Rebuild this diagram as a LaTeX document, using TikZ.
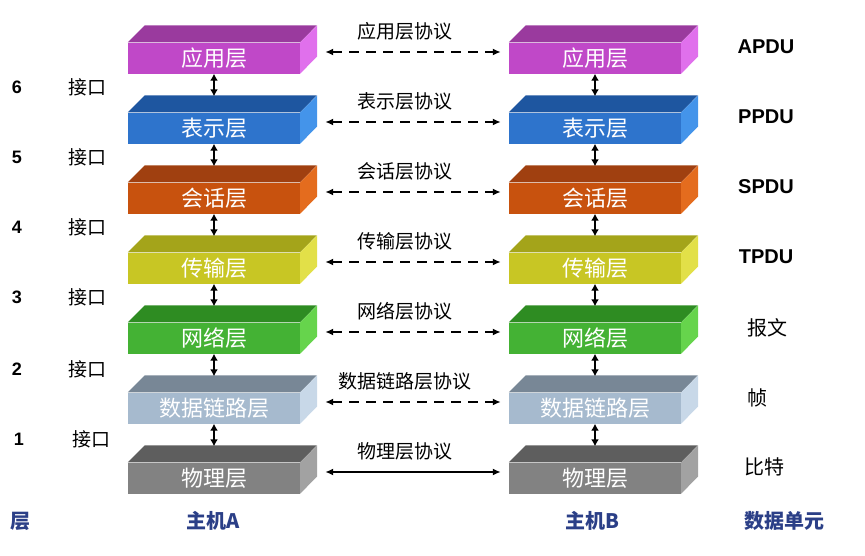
\documentclass[tikz,border=0pt]{standalone}
\usepackage{fontspec}
\setmainfont{Noto Sans CJK SC}
\newfontfamily\latf{Liberation Sans}
\usetikzlibrary{arrows.meta}
\definecolor{hostblue}{HTML}{2B3F87}
\definecolor{apF}{HTML}{C048C8}\definecolor{apT}{HTML}{9A3A9E}\definecolor{apS}{HTML}{E070EC}
\definecolor{prF}{HTML}{2E74CC}\definecolor{prT}{HTML}{1E56A0}\definecolor{prS}{HTML}{4494EA}
\definecolor{seF}{HTML}{C8520E}\definecolor{seT}{HTML}{A04010}\definecolor{seS}{HTML}{E46C1E}
\definecolor{trF}{HTML}{C8C624}\definecolor{trT}{HTML}{A4A41A}\definecolor{trS}{HTML}{E2E048}
\definecolor{neF}{HTML}{44B234}\definecolor{neT}{HTML}{2E8C22}\definecolor{neS}{HTML}{66D44C}
\definecolor{dlF}{HTML}{A6BACE}\definecolor{dlT}{HTML}{788796}\definecolor{dlS}{HTML}{C8D8E8}
\definecolor{phF}{HTML}{828282}\definecolor{phT}{HTML}{5E5E5E}\definecolor{phS}{HTML}{A2A2A2}
\newcommand\osilayer[7]{%
  \node[layerface, fill=#4] (#1) at (#2,#3) {#7};
  \fill[#5] (#1.north west) -- ++(17,17) -- ++(172,0) -- (#1.north east) -- cycle;
  \fill[#6] (#1.north east) -- ++(17,17) -- ++(0,-31) -- (#1.south east) -- cycle;
}
\tikzset{
  layerface/.style={rectangle, minimum width=172pt, minimum height=31pt, inner sep=0pt,
    text=white, font=\fontsize{22}{24}\selectfont},
  varrow/.style={line width=1.8pt, {Latex[length=7pt,width=8pt]}-{Latex[length=7pt,width=8pt]}},
  parrow/.style={line width=1.8pt, dash pattern=on 10pt off 7pt, {Latex[length=8pt,width=7pt]}-{Latex[length=8pt,width=7pt]}},
  psolid/.style={line width=1.8pt, {Latex[length=8pt,width=7pt]}-{Latex[length=8pt,width=7pt]}},
  plabel/.style={font=\fontsize{19}{21}\selectfont, inner sep=1pt, xshift=-8pt},
  numlabel/.style={font=\latf\bfseries\fontsize{18}{20}\selectfont},
  iflabel/.style={font=\fontsize{19}{21}\selectfont},
  pdulabel/.style={font=\latf\bfseries\fontsize{20}{22}\selectfont},
  unitlabel/.style={font=\fontsize{20}{22}\selectfont},
  hostlabel/.style={font=\bfseries\fontsize{20}{22}\selectfont, text=hostblue},
}
\begin{document}
\begin{tikzpicture}[x=1pt,y=1pt]
\useasboundingbox (0,0) rectangle (865,-555);
% host A
\osilayer{a1}{214}{-58}{apF}{apT}{apS}{应用层}
\osilayer{a2}{214}{-128}{prF}{prT}{prS}{表示层}
\osilayer{a3}{214}{-198}{seF}{seT}{seS}{会话层}
\osilayer{a4}{214}{-268}{trF}{trT}{trS}{传输层}
\osilayer{a5}{214}{-338}{neF}{neT}{neS}{网络层}
\osilayer{a6}{214}{-408}{dlF}{dlT}{dlS}{数据链路层}
\osilayer{a7}{214}{-478}{phF}{phT}{phS}{物理层}
% host B
\osilayer{b1}{595}{-58}{apF}{apT}{apS}{应用层}
\osilayer{b2}{595}{-128}{prF}{prT}{prS}{表示层}
\osilayer{b3}{595}{-198}{seF}{seT}{seS}{会话层}
\osilayer{b4}{595}{-268}{trF}{trT}{trS}{传输层}
\osilayer{b5}{595}{-338}{neF}{neT}{neS}{网络层}
\osilayer{b6}{595}{-408}{dlF}{dlT}{dlS}{数据链路层}
\osilayer{b7}{595}{-478}{phF}{phT}{phS}{物理层}
% vertical arrows
\foreach \h in {a,b}{
  \foreach \i/\j in {1/2,2/3,3/4,4/5,5/6,6/7}{
    \draw[varrow] (\h\i.south) -- ([yshift=16pt]\h\j.north);
  }
}
% protocol arrows
\draw[parrow] ([xshift=25pt,yshift=6pt]a1.east) -- ([xshift=-8pt,yshift=6pt]b1.west) node[midway,above=10pt,plabel]{应用层协议};
\draw[parrow] ([xshift=25pt,yshift=6pt]a2.east) -- ([xshift=-8pt,yshift=6pt]b2.west) node[midway,above=10pt,plabel]{表示层协议};
\draw[parrow] ([xshift=25pt,yshift=6pt]a3.east) -- ([xshift=-8pt,yshift=6pt]b3.west) node[midway,above=10pt,plabel]{会话层协议};
\draw[parrow] ([xshift=25pt,yshift=6pt]a4.east) -- ([xshift=-8pt,yshift=6pt]b4.west) node[midway,above=10pt,plabel]{传输层协议};
\draw[parrow] ([xshift=25pt,yshift=6pt]a5.east) -- ([xshift=-8pt,yshift=6pt]b5.west) node[midway,above=10pt,plabel]{网络层协议};
\draw[parrow] ([xshift=25pt,yshift=6pt]a6.east) -- ([xshift=-8pt,yshift=6pt]b6.west) node[midway,above=10pt,plabel]{数据链路层协议};
\draw[psolid] ([xshift=25pt,yshift=6pt]a7.east) -- ([xshift=-8pt,yshift=6pt]b7.west) node[midway,above=10pt,plabel]{物理层协议};
% left interface labels
\node[numlabel] (n6) at (17,-87) {6};  \node[iflabel] (i6) at (87,-87) {接口};
\node[numlabel] (n5) at (17,-157) {5}; \node[iflabel] (i5) at (87,-157) {接口};
\node[numlabel] (n4) at (17,-227) {4}; \node[iflabel] (i4) at (87,-227) {接口};
\node[numlabel] (n3) at (17,-297) {3}; \node[iflabel] (i3) at (87,-297) {接口};
\node[numlabel] (n2) at (17,-369) {2}; \node[iflabel] (i2) at (87,-369) {接口};
\node[numlabel] (n1) at (19,-439) {1}; \node[iflabel] (i1) at (91,-439) {接口};
% right data unit labels
\node[pdulabel] (u1) at (766,-47) {APDU};
\node[pdulabel] (u2) at (766,-117) {PPDU};
\node[pdulabel] (u3) at (766,-187) {SPDU};
\node[pdulabel] (u4) at (766,-257) {TPDU};
\node[unitlabel] (u5) at (767,-328) {报文};
\node[unitlabel] (u6) at (757,-398) {帧};
\node[unitlabel] (u7) at (764,-467) {比特};
% bottom labels
\node[hostlabel] (l0) at (20,-521) {层};
\node[hostlabel] (hA) at (213,-521) {主机A};
\node[hostlabel] (hB) at (592,-521) {主机B};
\node[hostlabel] (hU) at (784,-521) {数据单元};
\end{tikzpicture}
\end{document}
